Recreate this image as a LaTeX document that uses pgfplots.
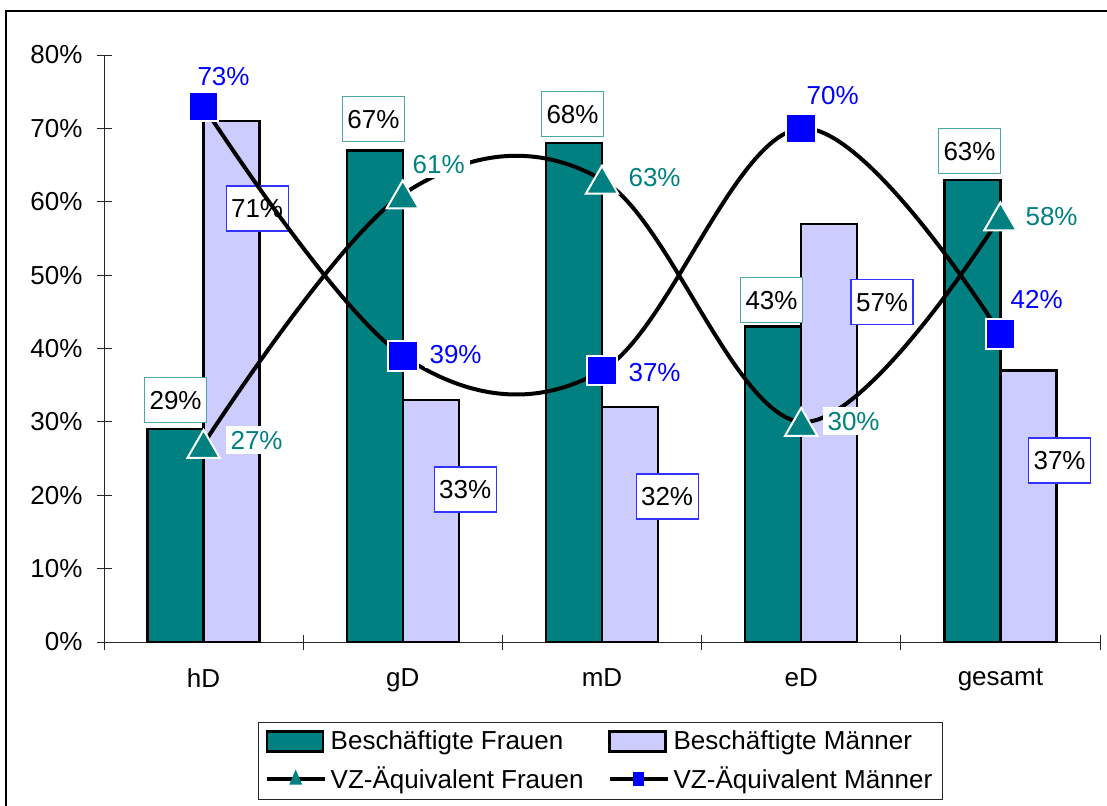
\documentclass[border=0pt]{standalone}
\usepackage{pgfplots}
\pgfplotsset{compat=1.18}
\usepackage{fontspec}
\setmainfont{Liberation Sans}
\definecolor{frauen}{HTML}{008080}
\definecolor{maenner}{HTML}{CCCCFF}
\definecolor{vzm}{HTML}{0000FF}
\newcommand{\fsz}{\fontsize{13}{15}\selectfont}
\tikzset{
  blab/.style={draw=#1, line width=0.6pt, fill=white, minimum width=31pt, minimum height=22.5pt, text height=9.4pt, text depth=0pt, inner sep=0pt, text=black},
  llab/.style={fill=white, text=#1, text height=9.4pt, text depth=0pt, inner sep=2.5pt},
}
\pgfplotsset{
  common/.style={
    scale only axis, width=498pt, height=293.5pt,
    xmin=-0.5, xmax=4.5, ymin=0, ymax=80,
    at={(0,0)}, anchor=south west, clip=false,
  },
}
\begin{document}
\begin{tikzpicture}[font=\fsz]
\begin{axis}[common,
  axis x line*=bottom, axis y line*=left,
  axis line style={-, line width=0.5pt, black!85},
  tick style={line width=0.5pt, black!85},
  tick align=center, major tick length=7.5pt,
  ytick={0,10,...,80},
  yticklabels={0\%,10\%,20\%,30\%,40\%,50\%,60\%,70\%,80\%},
  yticklabel style={xshift=-3.5pt},
  xtick={-0.5,0.5,1.5,2.5,3.5,4.5},
  xticklabels={,,,,,},
  extra x ticks={0,1,2,3,4},
  extra x tick labels={hD,gD,mD,eD,gesamt},
  extra x tick style={major tick length=0pt, tick style={draw=none}, xticklabel style={yshift=-10pt}},
  tick label style={font=\fsz},
]
\addplot[ybar, bar width=28pt, bar shift=-14pt, fill=frauen, draw=black, line width=1.2pt]
  coordinates {(0,29) (1,67) (2,68) (3,43) (4,63)};
\addplot[ybar, bar width=28pt, bar shift=14pt, fill=maenner, draw=black, line width=1.2pt]
  coordinates {(0,71) (1,33) (2,32) (3,57) (4,37)};
% Frauen bar labels
\node[blab=frauen!70] at (axis cs:-0.1406,32.98) {29\%};
\node[blab=frauen!70] at (axis cs:0.853,71.28) {67\%};
\node[blab=frauen!70] at (axis cs:1.852,71.96) {68\%};
\node[blab=frauen!70] at (axis cs:2.851,46.61) {43\%};
\node[blab=frauen!70] at (axis cs:3.845,66.92) {63\%};
% Maenner bar labels
\node[blab=vzm!80] at (axis cs:0.2686,59.08) {71\%};
\node[blab=vzm!80] at (axis cs:1.3128,20.78) {33\%};
\node[blab=vzm!80] at (axis cs:2.3268,19.83) {32\%};
\node[blab=vzm!80] at (axis cs:3.406,46.34) {57\%};
\node[blab=vzm!80] at (axis cs:4.297,24.74) {37\%};
\end{axis}
\begin{axis}[common, hide axis,
  legend columns=2,
  legend cell align=left,
  legend style={at={(0.4985,-0.1363)}, anchor=north, draw=black!85, line width=0.5pt,
    font=\fsz, inner xsep=3pt, inner ysep=2pt, row sep=3pt,
    /tikz/every even column/.append style={column sep=10pt}},
]
\addlegendimage{legend image code/.code={\draw[fill=frauen, draw=black, line width=1.2pt] (0pt,-5pt) rectangle (28pt,5pt);}}
\addlegendentry{Beschäftigte Frauen}
\addlegendimage{legend image code/.code={\draw[fill=maenner, draw=black, line width=1.2pt] (0pt,-5pt) rectangle (28pt,5pt);}}
\addlegendentry{Beschäftigte Männer}
\addplot[smooth, tension=0.6, black, line width=2pt, mark=triangle*, mark size=9.3pt,
  mark options={fill=frauen, draw=white, line width=1pt, yshift=-2.3pt},
  legend image code/.code={\draw[black, line width=2pt] (0pt,0pt) -- (29pt,0pt);
    \fill[frauen] (12.8pt,-1.9pt) -- (16.2pt,-1.9pt) -- (14.5pt,2.1pt) -- cycle;}]
  coordinates {(0,27) (1,61) (2,63) (3,30) (4,58)};
\addlegendentry{VZ-Äquivalent Frauen}
\addplot[smooth, tension=0.6, black, line width=2pt, mark=square*, mark size=7.4pt,
  mark options={fill=vzm, draw=white, line width=1pt},
  legend image code/.code={\draw[black, line width=2pt] (0pt,0pt) -- (29pt,0pt);
    \fill[vzm] (12.6pt,-2.4pt) rectangle (16.4pt,2.4pt);}]
  coordinates {(0,73) (1,39) (2,37) (3,70) (4,42)};
\addlegendentry{VZ-Äquivalent Männer}
% line labels
\node[llab=frauen] at (axis cs:0.266,27.53) {27\%};
\node[llab=frauen] at (axis cs:1.180,65.14) {61\%};
\node[llab=frauen] at (axis cs:2.264,63.37) {63\%};
\node[llab=frauen] at (axis cs:3.263,30.12) {30\%};
\node[llab=frauen] at (axis cs:4.257,57.99) {58\%};
\node[llab=vzm] at (axis cs:0.100,77.14) {73\%};
\node[llab=vzm] at (axis cs:1.265,39.25) {39\%};
\node[llab=vzm] at (axis cs:2.264,36.80) {37\%};
\node[llab=vzm] at (axis cs:3.158,74.55) {70\%};
\node[llab=vzm] at (axis cs:4.182,46.75) {42\%};
\end{axis}
\draw[line width=0.8pt] (-49pt,-100pt) -- (-49pt,315.5pt) -- (520pt,315.5pt);
\pgfresetboundingbox
\path (-52pt,-81.5pt) rectangle (501.5pt,321pt);
\end{tikzpicture}
\end{document}
